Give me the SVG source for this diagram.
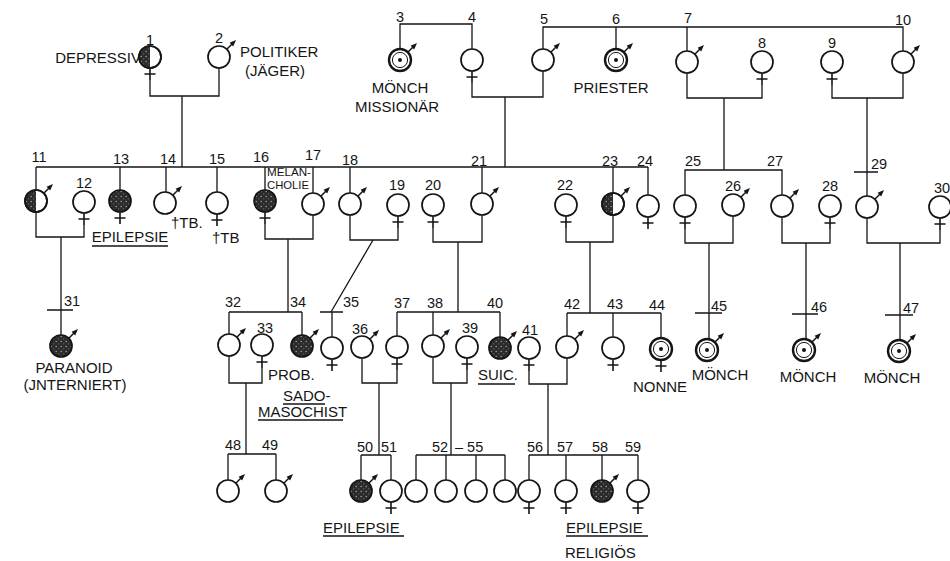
<svg xmlns="http://www.w3.org/2000/svg" width="950" height="561" viewBox="0 0 950 561">
<style>
.ln{fill:none;stroke:#151515;stroke-width:1.3}
.c{fill:#fff;stroke:#151515;stroke-width:1.7}
.o{fill:none;stroke:#151515;stroke-width:1.7}
.s{fill:url(#stip);stroke:#151515;stroke-width:1.7}
.h{fill:url(#stip);stroke:none}
.t{font-family:"Liberation Sans",Arial,sans-serif;font-size:14.5px;fill:#151515}
.d{font-family:"Liberation Sans",Arial,sans-serif;font-size:15px;fill:#151515}
.sm{font-family:"Liberation Sans",Arial,sans-serif;font-size:10.5px;fill:#151515}
.m{text-anchor:middle}
.e{text-anchor:end}
</style>
<defs>
<pattern id="stip" width="5" height="5" patternUnits="userSpaceOnUse"><rect width="5" height="5" fill="#2b2b2b"/><circle cx="1.2" cy="1.5" r="0.8" fill="#9a9a9a"/><circle cx="3.7" cy="3.8" r="0.6" fill="#777"/></pattern>
<g id="ar"><line x1="7.8" y1="-7.8" x2="13.5" y2="-13.5" stroke="#151515" stroke-width="1.5"/><path d="M17,-17 L10.6,-14.2 L14.2,-10.6 Z" fill="#151515"/></g>
<path id="cr" d="M0,11 V23 M-5.5,17 H5.5" stroke="#151515" stroke-width="1.6" fill="none"/>
<g id="mk"><circle r="11" fill="#fff" stroke="#151515" stroke-width="2.4"/><circle r="7.6" fill="none" stroke="#151515" stroke-width="1"/><circle r="2" fill="#151515"/></g>
</defs>
<rect width="950" height="561" fill="#fff"/>

<g id="connectors" class="ln">
<path d="M150,80 V96 H219 V68 M182,96 V167"/>
<path d="M400,49 V24 H472 V49"/>
<path d="M472,83 V97 H543 V71 M505,97 V167"/>
<path d="M543,49 V27 H903 V51 M616,27 V49 M687,27 V51"/>
<path d="M687,73 V98 H762 V85 M724,98 V170"/>
<path d="M832,85 V98 H903 V73 M867,98 V196 M854,172 H878"/>
<path d="M36,167 H648 M36,167 V190 M120,167 V190 M166,167 V192 M217,167 V192 M265,167 V190 M313,167 V193 M350,167 V193 M482,167 V193 M613,167 V193 M648,167 V195"/>
<path d="M685,195 V170 H782 V195"/>
<path d="M36,212 V237 H84 V225 M61,237 V335 M47,310 H73"/>
<path d="M265,224 V239 H313 V215 M288,239 V312"/>
<path d="M350,215 V240 H398 V228 M373,240 L331,312"/>
<path d="M433,228 V242 H482 V215 M458,242 V312"/>
<path d="M566,228 V242 H613 V215 M590,242 V313"/>
<path d="M685,229 V243 H733 V216 M709,243 V339 M695,313 H722"/>
<path d="M782,217 V243 H830 V229 M806,243 V339 M792,314 H818"/>
<path d="M867,218 V243 H940 V230 M900,243 V340 M885,315 H913"/>
<path d="M229,312 H302 M229,312 V334 M302,312 V335 M320,312 H343 M332,312 V337"/>
<path d="M397,312 H500 M397,312 V336 M433,312 V335 M500,312 V337"/>
<path d="M567,313 H661 M567,313 V336 M613,313 V337 M661,313 V338"/>
<path d="M229,356 V383 H262 V368 M246,383 V454"/>
<path d="M362,358 V383 H397 V370 M379,383 V455"/>
<path d="M433,357 V383 H467 V370 M451,383 V455"/>
<path d="M529,371 V384 H567 V358 M548,384 V455"/>
<path d="M228,454 H276 M228,454 V480 M276,454 V480"/>
<path d="M361,455 H391 M361,455 V480 M391,455 V480"/>
<path d="M416,455 H505 M416,455 V480 M446,455 V480 M476,455 V480 M505,455 V480"/>
<path d="M529,455 H638 M529,455 V480 M566,455 V480 M602,455 V480 M638,455 V480"/>
</g>

<!-- Generation I -->
<g id="n1"><circle class="c" cx="150" cy="57" r="11"/><path class="h" d="M150,46 A11,11 0 0 0 150,68 Z"/><circle class="o" cx="150" cy="57" r="11"/><use href="#cr" x="150" y="57"/><text class="t m" x="150" y="45">1</text><text class="d e" x="141" y="63">DEPRESSIV</text></g>
<g id="n2"><circle class="c" cx="219" cy="57" r="11"/><use href="#ar" x="219" y="57"/><text class="t m" x="219" y="43">2</text><text class="d" x="240" y="57">POLITIKER</text><text class="d" x="245" y="76">(JÄGER)</text></g>
<g id="n3"><use href="#mk" x="400" y="60"/><use href="#ar" x="400" y="60"/><text class="t m" x="400" y="22">3</text><text class="d m" x="400" y="93">MÖNCH</text><text class="d m" x="397" y="112">MISSIONÄR</text></g>
<g id="n4"><circle class="c" cx="472" cy="60" r="11"/><use href="#cr" x="472" y="60"/><text class="t m" x="472" y="22">4</text></g>
<g id="n5"><circle class="c" cx="543" cy="60" r="11"/><use href="#ar" x="543" y="60"/><text class="t m" x="544" y="24">5</text></g>
<g id="n6"><use href="#mk" x="616" y="60"/><use href="#ar" x="616" y="60"/><text class="t m" x="616" y="24">6</text><text class="d m" x="611" y="93">PRIESTER</text></g>
<g id="n7"><circle class="c" cx="687" cy="62" r="11"/><use href="#ar" x="687" y="62"/><text class="t m" x="688" y="23">7</text></g>
<g id="n8"><circle class="c" cx="762" cy="62" r="11"/><use href="#cr" x="762" y="62"/><text class="t m" x="762" y="48">8</text></g>
<g id="n9"><circle class="c" cx="832" cy="62" r="11"/><use href="#cr" x="832" y="62"/><text class="t m" x="832" y="48">9</text></g>
<g id="n10"><circle class="c" cx="903" cy="62" r="11"/><use href="#ar" x="903" y="62"/><text class="t m" x="903" y="25">10</text></g>

<!-- Generation II -->
<g id="n11"><circle class="c" cx="36" cy="201" r="11"/><path class="h" d="M36,190 A11,11 0 0 0 36,212 Z"/><circle class="o" cx="36" cy="201" r="11"/><use href="#ar" x="36" y="201"/><text class="t m" x="39" y="162">11</text></g>
<g id="n12"><circle class="c" cx="84" cy="202" r="11"/><use href="#cr" x="84" y="202"/><text class="t m" x="84" y="188">12</text></g>
<g id="n13"><circle class="s" cx="120" cy="201" r="11"/><use href="#cr" x="120" y="201"/><text class="t m" x="121" y="164">13</text><text class="d m" x="130" y="242">EPILEPSIE</text><line class="ln" x1="92" y1="246" x2="168" y2="246"/></g>
<g id="n14"><circle class="c" cx="165" cy="203" r="11"/><use href="#ar" x="165" y="203"/><text class="t m" x="168" y="164">14</text><text class="d" x="171" y="228">†TB.</text></g>
<g id="n15"><circle class="c" cx="217" cy="203" r="11"/><use href="#cr" x="217" y="203"/><text class="t m" x="217" y="164">15</text><text class="d" x="212" y="243">†TB</text></g>
<g id="n16"><circle class="s" cx="265" cy="201" r="11"/><use href="#cr" x="265" y="201"/><text class="t m" x="261" y="162">16</text><text class="sm" x="267" y="176" textLength="44" lengthAdjust="spacingAndGlyphs">MELAN-</text><text class="sm" x="267" y="188.5" textLength="42" lengthAdjust="spacingAndGlyphs">CHOLIE</text></g>
<g id="n17"><circle class="c" cx="313" cy="204" r="11"/><use href="#ar" x="313" y="204"/><text class="t m" x="313" y="160">17</text></g>
<g id="n18"><circle class="c" cx="350" cy="204" r="11"/><use href="#ar" x="350" y="204"/><text class="t m" x="350" y="165">18</text></g>
<g id="n19"><circle class="c" cx="398" cy="205" r="11"/><use href="#cr" x="398" y="205"/><text class="t m" x="397" y="190">19</text></g>
<g id="n20"><circle class="c" cx="433" cy="205" r="11"/><use href="#cr" x="433" y="205"/><text class="t m" x="433" y="190">20</text></g>
<g id="n21"><circle class="c" cx="482" cy="204" r="11"/><use href="#ar" x="482" y="204"/><text class="t m" x="479" y="166">21</text></g>
<g id="n22"><circle class="c" cx="566" cy="205" r="11"/><use href="#cr" x="566" y="205"/><text class="t m" x="565" y="190">22</text></g>
<g id="n23"><circle class="c" cx="613" cy="204" r="11"/><path class="h" d="M613,193 A11,11 0 0 0 613,215 Z"/><circle class="o" cx="613" cy="204" r="11"/><use href="#ar" x="613" y="204"/><text class="t m" x="610" y="166">23</text></g>
<g id="n24"><circle class="c" cx="648" cy="206" r="11"/><use href="#cr" x="648" y="206"/><text class="t m" x="645" y="166">24</text></g>
<g id="n25"><circle class="c" cx="685" cy="206" r="11"/><use href="#cr" x="685" y="206"/><text class="t m" x="693" y="166">25</text></g>
<g id="n26"><circle class="c" cx="733" cy="205" r="11"/><use href="#ar" x="733" y="205"/><text class="t m" x="733" y="191">26</text></g>
<g id="n27"><circle class="c" cx="782" cy="206" r="11"/><use href="#ar" x="782" y="206"/><text class="t m" x="775" y="166">27</text></g>
<g id="n28"><circle class="c" cx="830" cy="206" r="11"/><use href="#cr" x="830" y="206"/><text class="t m" x="830" y="191">28</text></g>
<g id="n29"><circle class="c" cx="867" cy="207" r="11"/><use href="#ar" x="867" y="207"/><text class="t m" x="879" y="169">29</text></g>
<g id="n30"><circle class="c" cx="940" cy="207" r="11"/><use href="#cr" x="940" y="207"/><text class="t m" x="942" y="193">30</text></g>

<!-- Generation III -->
<g id="n31"><circle class="s" cx="61" cy="346" r="11"/><use href="#ar" x="61" y="346"/><text class="t m" x="72" y="306">31</text><text class="d m" x="74" y="373">PARANOID</text><text class="d m" x="75" y="390">(JNTERNIERT)</text></g>
<g id="n32"><circle class="c" cx="229" cy="345" r="11"/><use href="#ar" x="229" y="345"/><text class="t m" x="233" y="307">32</text></g>
<g id="n33"><circle class="c" cx="262" cy="345" r="11"/><use href="#cr" x="262" y="345"/><text class="t m" x="265" y="333">33</text></g>
<g id="n34"><circle class="s" cx="302" cy="346" r="11"/><use href="#ar" x="302" y="346"/><text class="t m" x="298" y="307">34</text><text class="d" x="268" y="380">PROB.</text><text class="d" x="283" y="401">SADO-</text><line class="ln" x1="283" y1="404" x2="325" y2="404"/><text class="d" x="258" y="417">MASOCHIST</text><line class="ln" x1="258" y1="420" x2="343" y2="420"/></g>
<g id="n35"><circle class="c" cx="332" cy="348" r="11"/><use href="#cr" x="332" y="348"/><text class="t m" x="351" y="307">35</text></g>
<g id="n36"><circle class="c" cx="362" cy="347" r="11"/><use href="#ar" x="362" y="347"/><text class="t m" x="360" y="334">36</text></g>
<g id="n37"><circle class="c" cx="397" cy="347" r="11"/><use href="#cr" x="397" y="347"/><text class="t m" x="402" y="308">37</text></g>
<g id="n38"><circle class="c" cx="433" cy="346" r="11"/><use href="#ar" x="433" y="346"/><text class="t m" x="435" y="308">38</text></g>
<g id="n39"><circle class="c" cx="467" cy="347" r="11"/><use href="#cr" x="467" y="347"/><text class="t m" x="470" y="333">39</text></g>
<g id="n40"><circle class="s" cx="500" cy="348" r="11"/><use href="#ar" x="500" y="348"/><text class="t m" x="495" y="308">40</text><text class="d" x="478" y="380">SUIC.</text><line class="ln" x1="478" y1="384" x2="515" y2="384"/></g>
<g id="n41"><circle class="c" cx="529" cy="348" r="11"/><use href="#cr" x="529" y="348"/><text class="t m" x="530" y="335">41</text></g>
<g id="n42"><circle class="c" cx="567" cy="347" r="11"/><use href="#ar" x="567" y="347"/><text class="t m" x="572" y="309">42</text></g>
<g id="n43"><circle class="c" cx="613" cy="348" r="11"/><use href="#cr" x="613" y="348"/><text class="t m" x="615" y="309">43</text></g>
<g id="n44"><use href="#mk" x="661" y="349"/><use href="#cr" x="661" y="349"/><text class="t m" x="657" y="310">44</text><text class="d m" x="660" y="392">NONNE</text></g>
<g id="n45"><use href="#mk" x="707" y="350"/><use href="#ar" x="707" y="350"/><text class="t m" x="719" y="311">45</text><text class="d m" x="720" y="380">MÖNCH</text></g>
<g id="n46"><use href="#mk" x="804" y="350"/><use href="#ar" x="804" y="350"/><text class="t m" x="819" y="312">46</text><text class="d m" x="808" y="382">MÖNCH</text></g>
<g id="n47"><use href="#mk" x="899" y="351"/><use href="#ar" x="899" y="351"/><text class="t m" x="911" y="313">47</text><text class="d m" x="892" y="383">MÖNCH</text></g>

<!-- Generation IV -->
<g id="n48"><circle class="c" cx="228" cy="491" r="11"/><use href="#ar" x="228" y="491"/><text class="t m" x="233" y="450">48</text></g>
<g id="n49"><circle class="c" cx="276" cy="491" r="11"/><use href="#ar" x="276" y="491"/><text class="t m" x="270" y="450">49</text></g>
<g id="n50"><circle class="s" cx="361" cy="491" r="11"/><use href="#ar" x="361" y="491"/><text class="t m" x="365" y="452">50</text><text class="d" x="323" y="533">EPILEPSIE</text><line class="ln" x1="323" y1="536" x2="404" y2="536"/></g>
<g id="n51"><circle class="c" cx="391" cy="491" r="11"/><use href="#cr" x="391" y="491"/><text class="t m" x="389" y="452">51</text></g>
<g id="n52-55"><circle class="c" cx="416" cy="491" r="11"/><circle class="c" cx="446" cy="491" r="11"/><circle class="c" cx="476" cy="491" r="11"/><circle class="c" cx="505" cy="491" r="11"/><text class="t m" x="440" y="452">52</text><text class="t" x="455" y="452">– 55</text></g>
<g id="n56"><circle class="c" cx="529" cy="491" r="11"/><use href="#cr" x="529" y="491"/><text class="t m" x="535" y="452">56</text></g>
<g id="n57"><circle class="c" cx="566" cy="491" r="11"/><use href="#cr" x="566" y="491"/><text class="t m" x="565" y="452">57</text></g>
<g id="n58"><circle class="s" cx="602" cy="491" r="11"/><use href="#ar" x="602" y="491"/><text class="t m" x="600" y="452">58</text><text class="d" x="566" y="533">EPILEPSIE</text><line class="ln" x1="566" y1="536" x2="648" y2="536"/><text class="d" x="565" y="558">RELIGIÖS</text></g>
<g id="n59"><circle class="c" cx="638" cy="491" r="11"/><use href="#cr" x="638" y="491"/><text class="t m" x="633" y="452">59</text></g>
</svg>
